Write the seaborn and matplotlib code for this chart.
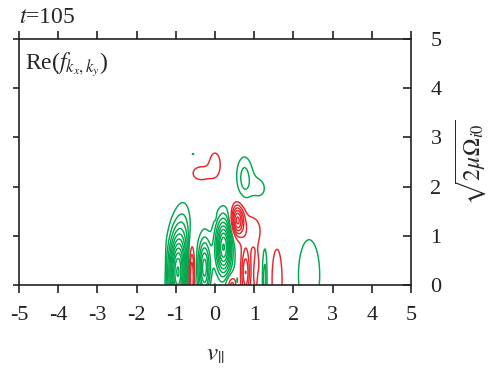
import numpy as np
import matplotlib
matplotlib.use("Agg")
import matplotlib.pyplot as plt
import seaborn as sns

# ---- data: Gaussian-blob description of Re(f) ----
# positive (green) structures
pos_v   = [-0.95, -0.78, -0.27, 0.22, 0.20, 0.75, 0.75, 1.12, 1.27, 2.40, -0.56, 0.57, 1.10]
pos_mu  = [0.25, 1.10, 0.35, 0.78, 0.60, 2.15, 2.35, 1.95, 0.12, 0.20, 2.66, 0.05, 0.05]
pos_amp = [11.0, 1.7, 6.5, 8.0, 1.2, 2.0, 0.5, 1.2, 2.5, 1.5, 1.08, 1.6, 1.5]
pos_sv  = [0.16, 0.15, 0.11, 0.14, 0.20, 0.13, 0.30, 0.20, 0.05, 0.30, 0.05, 0.02, 0.03]
pos_smu = [0.55, 0.45, 0.40, 0.38, 0.60, 0.30, 0.30, 0.22, 0.55, 0.80, 0.02, 0.15, 0.22]
# negative (red) structures
neg_v   = [-1.30, -0.60, -0.36, 0.00, 0.00, 0.57, 0.90, 0.42, 0.78, 1.07, 1.59]
neg_mu  = [0.48, 0.20, 2.27, 2.45, 1.45, 1.32, 1.10, 0.00, 0.25, 0.20, 0.10]
neg_amp = [1.5, 5.0, 1.75, 1.75, 1.5, 6.0, 1.6, 3.0, 4.0, 2.2, 1.6]
neg_sv  = [0.025, 0.06, 0.19, 0.13, 0.02, 0.11, 0.26, 0.09, 0.08, 0.06, 0.14]
neg_smu = [0.30, 0.45, 0.12, 0.22, 0.08, 0.21, 0.30, 0.14, 0.33, 0.30, 0.65]

levels_pos = [1, 2, 3, 4, 5, 6, 7, 8, 9, 10, 11]
levels_neg = [-11, -10, -9, -8, -7, -6, -5, -4, -3, -2, -1]
x_ticks = [-5, -4, -3, -2, -1, 0, 1, 2, 3, 4, 5]
y_ticks = [0, 1, 2, 3, 4, 5]
title_text = r"$t$=105"
panel_text = r"Re($f_{k_x,k_y}$)"

# ---- field ----
v = np.linspace(-5, 5, 1001)
mu = np.linspace(0, 5, 501)
V, MU = np.meshgrid(v, mu)
F = np.zeros_like(V)
for a, b, A, s1, s2 in zip(pos_v, pos_mu, pos_amp, pos_sv, pos_smu):
    F += A * np.exp(-0.5 * ((V - a) / s1) ** 2 - 0.5 * ((MU - b) / s2) ** 2)
for a, b, A, s1, s2 in zip(neg_v, neg_mu, neg_amp, neg_sv, neg_smu):
    F -= A * np.exp(-0.5 * ((V - a) / s1) ** 2 - 0.5 * ((MU - b) / s2) ** 2)

sns.set_style("ticks")
plt.rcParams["font.family"] = ["Liberation Serif", "DejaVu Serif"]
plt.rcParams["mathtext.fontset"] = "stix"
plt.rcParams["axes.unicode_minus"] = False

green = "#00a84f"
red = "#e8262b"

fig = plt.figure(figsize=(4.93, 3.77), dpi=100)
ax = fig.add_axes([19 / 493, 92 / 377, 392 / 493, 246 / 377])
ax.contour(V, MU, F, levels=levels_pos, colors=green, linewidths=1.05)
ax.contour(V, MU, F, levels=levels_neg, colors=red, linewidths=1.05, linestyles="solid")

ax.set_xlim(-5, 5)
ax.set_ylim(0, 5)
ax.set_xticks(x_ticks)
ax.set_yticks(y_ticks)
ax.set_xticklabels([str(t) for t in x_ticks], fontsize=16)
for s in ax.spines.values():
    s.set_linewidth(1.2)
    s.set_color("#222222")
ax.tick_params(axis="x", which="both", direction="out", length=6, width=1.2,
               top=True, bottom=True, labelsize=16, pad=9, colors="#222222")
ax.tick_params(axis="y", which="both", direction="in", length=6, width=1.2,
               left=False, right=True, labelleft=False, labelright=True,
               labelsize=16, pad=14, colors="#222222")
# outward ticks on the left spine
for t in y_ticks:
    ax.plot([-5.16, -5.0], [t, t], color="#222222", lw=1.2, clip_on=False,
            solid_capstyle="butt")

ax.set_xlabel(r"$v_{||}$", fontsize=18, labelpad=14)
ax.yaxis.set_label_position("right")
ax.set_ylabel(r"$\sqrt{2\mu\Omega_{i0}}$", fontsize=17, labelpad=8)
ax.text(0.0, 1.045, title_text, transform=ax.transAxes, fontsize=17,
        ha="left", va="bottom")
ax.text(0.015, 0.95, panel_text, transform=ax.transAxes, fontsize=17,
        ha="left", va="top")

fig.savefig("out.png", dpi=100)
